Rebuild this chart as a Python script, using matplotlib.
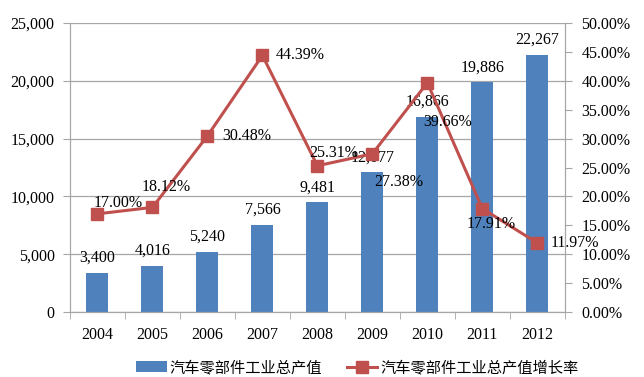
import matplotlib
matplotlib.use("Agg")
import matplotlib.pyplot as plt
from matplotlib.ticker import FuncFormatter, FixedLocator
from matplotlib.lines import Line2D
from matplotlib.patches import Patch

years = ["2004", "2005", "2006", "2007", "2008", "2009", "2010", "2011", "2012"]
output_value = [3400, 4016, 5240, 7566, 9481, 12077, 16866, 19886, 22267]
growth_rate = [17.00, 18.12, 30.48, 44.39, 25.31, 27.38, 39.66, 17.91, 11.97]
bar_name = "汽车零部件工业总产值"
line_name = "汽车零部件工业总产值增长率"

BAR_COLOR = "#4F81BD"
LINE_COLOR = "#C0504D"
GRID = "#A6A6A6"
serif = ["Liberation Serif", "DejaVu Serif"]
cjk = ["Noto Sans CJK SC", "DejaVu Sans"]
FS = 11.5

fig = plt.figure(figsize=(6.44, 3.77), dpi=100)
ax = fig.add_axes([0.1087, 0.172, 0.7683, 0.767])
ax2 = ax.twinx()

x = list(range(len(years)))
ax.bar(x, output_value, width=0.4, color=BAR_COLOR, zorder=2)
ax.set_ylim(0, 25000)
ax.set_xlim(-0.5, len(years) - 0.5)
ax.set_yticks(range(0, 25001, 5000))
ax.yaxis.set_major_formatter(FuncFormatter(lambda v, p: f"{int(v):,}"))
ax.grid(axis="y", color=GRID, linewidth=0.9, zorder=0)
ax.set_axisbelow(True)
ax.set_xticks(x)
ax.set_xticklabels(years)
ax.xaxis.set_minor_locator(FixedLocator([i - 0.5 for i in range(len(years) + 1)]))
ax.tick_params(axis="x", which="major", length=0, pad=11)
ax.tick_params(axis="x", which="minor", length=5, color=GRID, direction="out")
ax.tick_params(axis="y", length=5, color=GRID, pad=6)

for i, v in enumerate(output_value):
    ax.annotate(f"{v:,}", (i, v), xytext=(0, 15), textcoords="offset pixels",
                ha="center", va="center", fontsize=FS, family=serif, zorder=5)

ax2.plot(x, growth_rate, color=LINE_COLOR, linewidth=2.2, marker="s",
         markersize=9, zorder=4)
ax2.set_ylim(0, 50)
ax2.set_yticks(range(0, 51, 5))
ax2.yaxis.set_major_formatter(FuncFormatter(lambda v, p: f"{v:.2f}%"))
ax2.tick_params(axis="y", length=5, color=GRID, pad=7)

# label offsets in pixels (dx, dy, ha)
offsets = [(21, 11, "center"), (14, 20, "center"), (15, 0, "left"),
           (13, 0, "left"), (16, 13, "center"), (26, -28, "center"),
           (20, -39, "center"), (9, -15, "center"), (13, 0, "left")]
for i, v in enumerate(growth_rate):
    dx, dy, ha = offsets[i]
    ax2.annotate(f"{v:.2f}%", (i, v), xytext=(dx, dy), textcoords="offset pixels",
                 ha=ha, va="center", fontsize=FS, family=serif, zorder=6)

for a in (ax, ax2):
    a.spines["top"].set_visible(False)
    a.spines["left"].set_color(GRID)
    a.spines["right"].set_color(GRID)
    a.spines["bottom"].set_color(GRID)
    for lab in a.get_yticklabels() + a.get_xticklabels():
        lab.set_family(serif)
        lab.set_fontsize(FS)

handles = [Patch(facecolor=BAR_COLOR, edgecolor="none"),
           Line2D([0], [0], color=LINE_COLOR, linewidth=2.2, marker="s", markersize=9)]
fig.legend(handles, [bar_name, line_name], loc="center", bbox_to_anchor=(0.555, 0.025),
           ncol=2, frameon=False, prop={"family": cjk, "size": 11},
           handlelength=2.0, columnspacing=1.6, handletextpad=0.2)

fig.savefig("out.png", dpi=100)
